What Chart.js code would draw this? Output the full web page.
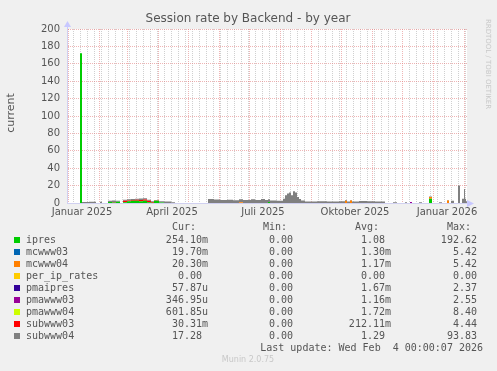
<!DOCTYPE html>
<html lang="de">
<head>
<meta charset="UTF-8">
<title>Session rate by Backend - by year</title>
<script src="https://cdn.jsdelivr.net/npm/chart.js"></script>
<style>
  html, body { margin: 0; padding: 0; background: #f0f0f0; }
  canvas { display: block; }
</style>
</head>
<body>
<canvas id="myChart" width="497" height="371"></canvas>
<script>
// day 0 = 31 Dec 2024, day 400 = 4 Feb 2026 (munin "by year" window)
// each value holds from its day until the next day in the list
const days = [0, 13, 15, 22, 29, 33, 35, 41, 45, 49,
  53, 56, 60, 64, 68, 72, 76, 80, 84, 87,
  92, 97, 104, 108, 141, 147, 153, 160, 166, 172,
  176, 184, 188, 194, 198, 201, 203, 210, 216, 218,
  220, 222, 224, 226, 228, 230, 232, 234, 238, 250,
  260, 272, 278, 280, 283, 285, 292, 300, 308, 318,
  326, 330, 338, 340, 343, 345, 352, 355, 362, 365,
  372, 375, 380, 382, 384, 387, 391, 393, 395, 397,
  398, 399, 400];

const ipres = [0, 172, 0, 0, 0, 0, 0, 1.2, 0.5, 1.5,
  0, 1, 2, 2.5, 2.5, 2, 2.5, 1, 0.3, 2.5,
  0.5, 0, 0, 0, 0, 0, 0, 0, 0, 0,
  0, 0, 0, 0, 0, 1.2, 0, 0, 0, 0,
  0, 0, 0, 0, 0, 0, 0, 0, 0, 0,
  0, 0, 0, 0, 0, 0, 0, 0, 0, 0,
  0, 0, 0, 0, 0, 0, 0, 0, 5, 0,
  0, 0, 0, 0, 0, 0, 0, 0, 0, 0,
  0, 0, 0];

const subwww03 = [0, 0, 0, 0, 0, 0, 0, 0, 0.6, 0,
  0, 1.5, 1, 1, 1.2, 1.5, 1.5, 1.5, 0.8, 0.5,
  0, 0, 0, 0, 0, 0, 0, 0, 0, 0,
  0, 0, 0, 0, 0, 0, 0, 0, 0, 0,
  0, 0, 0, 0, 0, 0, 0, 0, 0, 0,
  0, 0, 0, 0, 0, 0, 0, 0, 0, 0,
  0, 0, 0, 0, 0, 0, 0, 0, 0, 0,
  0, 0, 0, 0, 0, 0, 0, 0, 0, 0,
  0, 0, 0];

const subwww04 = [0, 0, 1.2, 1.5, 0, 1.5, 0, 1.5, 1.8, 1,
  0, 1.2, 1.3, 1, 1.2, 1.8, 1.5, 1.2, 1, 0.5,
  1.5, 1.8, 1, 0, 4.5, 4, 3.5, 3.8, 3.2, 3.5,
  3.5, 4.2, 3.5, 4.5, 3.5, 3, 3, 2.5, 5, 9,
  11, 12, 9, 13.5, 12, 7, 4.5, 3, 1.8, 2,
  1.8, 2, 1, 1.8, 0.5, 1.8, 2.2, 2, 1.8, 0,
  1, 0, 1, 0, 0, 0, 1, 0, 0.5, 0,
  0.8, 0, 0.5, 0, 2.5, 0, 20, 0, 5, 16,
  5, 2, 2];

// sparse series: only the days where something shows
const mcwww04Days = [172, 278, 283, 362, 380];
const mcwww04Vals = [0.8, 2.5, 3, 2, 3];
const pmawww03Days = [343];
const pmawww03Vals = [1.2];

const names = ['ipres', 'mcwww03', 'mcwww04', 'per_ip_rates', 'pmaipres',
  'pmawww03', 'pmawww04', 'subwww03', 'subwww04'];
const colors = ['#00cc00', '#0066b3', '#ff8000', '#ffcc00', '#330099',
  '#990099', '#ccff00', '#ff0000', '#808080'];

const curVals = ['254.10m', '19.70m', '20.30m', '0.00', '57.87u', '346.95u', '601.85u', '30.31m', '17.28'];
const minVals = ['0.00', '0.00', '0.00', '0.00', '0.00', '0.00', '0.00', '0.00', '0.00'];
const avgVals = ['1.08', '1.30m', '1.17m', '0.00', '1.67m', '1.16m', '1.72m', '212.11m', '1.29'];
const maxVals = ['192.62', '5.42', '5.42', '0.00', '2.37', '2.55', '8.40', '4.44', '93.83'];

const monthStarts = [1, 32, 60, 91, 121, 152, 182, 213, 244, 274, 305, 335, 366, 397];
const xLabelDays = [15, 105, 196, 288, 380];
const xLabels = ['Januar 2025', 'April 2025', 'Juli 2025', 'Oktober 2025', 'Januar 2026'];
const yTicks = [0, 20, 40, 60, 80, 100, 120, 140, 160, 180, 200];

function sparse(d, v) {
  return days.map(x => {
    const i = d.indexOf(x);
    return i < 0 ? 0 : v[i];
  });
}
const zeros = days.map(() => 0);
const seriesValues = {
  ipres: ipres,
  mcwww03: zeros,
  mcwww04: sparse(mcwww04Days, mcwww04Vals),
  per_ip_rates: zeros,
  pmaipres: zeros,
  pmawww03: sparse(pmawww03Days, pmawww03Vals),
  pmawww04: zeros,
  subwww03: subwww03,
  subwww04: subwww04
};

const RED = 'rgba(225,120,120,0.55)';
const GRAY = 'rgba(150,150,150,0.45)';

const muninText = {
  id: 'muninText',
  beforeDraw(chart) {
    const { ctx, chartArea: a } = chart;
    ctx.save();
    ctx.fillStyle = '#f0f0f0';
    ctx.fillRect(0, 0, chart.width, chart.height);
    ctx.fillStyle = '#ffffff';
    ctx.fillRect(a.left, a.top, a.right - a.left, a.bottom - a.top);
    ctx.restore();
  },
  afterDraw(chart) {
    const { ctx, chartArea: a } = chart;
    ctx.save();
    // title
    ctx.fillStyle = '#555';
    ctx.font = '12px "DejaVu Sans"';
    ctx.textAlign = 'center';
    ctx.textBaseline = 'middle';
    ctx.fillText('Session rate by Backend - by year', 248, 19);

    // vertical label
    ctx.save();
    ctx.translate(11, 113);
    ctx.rotate(-Math.PI / 2);
    ctx.font = '11px "DejaVu Sans"';
    ctx.fillText('current', 0, 0);
    ctx.restore();

    // rrdtool watermark
    ctx.save();
    ctx.translate(488, 64);
    ctx.rotate(Math.PI / 2);
    ctx.fillStyle = '#c8c8c8';
    ctx.font = '7px "DejaVu Sans"';
    ctx.fillText('RRDTOOL / TOBI OETIKER', 0, 0);
    ctx.restore();

    // axis arrows
    ctx.fillStyle = '#c8c8ff';
    ctx.strokeStyle = '#c8c8ff';
    ctx.beginPath();
    ctx.moveTo(a.left + 0.5, a.top);
    ctx.lineTo(a.left + 0.5, a.top - 4);
    ctx.stroke();
    ctx.beginPath();
    ctx.moveTo(a.left - 3, a.top - 2);
    ctx.lineTo(a.left + 4, a.top - 2);
    ctx.lineTo(a.left + 0.5, a.top - 8);
    ctx.fill();
    ctx.beginPath();
    ctx.moveTo(a.right, a.bottom - 3);
    ctx.lineTo(a.right, a.bottom + 4);
    ctx.lineTo(a.right + 7, a.bottom + 0.5);
    ctx.fill();

    // legend table
    ctx.font = '10px "DejaVu Sans Mono"';
    ctx.textBaseline = 'middle';
    ctx.fillStyle = '#555';
    const colRight = [208, 299, 391, 483];
    ['Cur:', 'Min:', 'Avg:', 'Max:'].forEach((h, k) => {
      ctx.textAlign = 'left';
      ctx.fillText(h, colRight[k] - 36, 227);
    });
    const pad = s => /\d$/.test(s) ? s + ' ' : s;
    const cols = [curVals, minVals, avgVals, maxVals];
    names.forEach((n, i) => {
      const y = 240 + i * 12;
      ctx.fillStyle = colors[i];
      ctx.fillRect(14, y - 3, 6, 6);
      ctx.fillStyle = '#555';
      ctx.textAlign = 'left';
      ctx.fillText(n, 26, y);
      ctx.textAlign = 'right';
      cols.forEach((c, k) => ctx.fillText(pad(c[i]), colRight[k], y));
    });
    ctx.textAlign = 'right';
    ctx.fillText('Last update: Wed Feb  4 00:00:07 2026', 483, 348);

    ctx.fillStyle = '#c8c8c8';
    ctx.font = '8px "DejaVu Sans"';
    ctx.textAlign = 'center';
    ctx.fillText('Munin 2.0.75', 248, 360);
    ctx.restore();
  }
};

const datasets = names.map((n, i) => ({
  label: n,
  data: days.map((d, j) => ({ x: d, y: seriesValues[n][j] })),
  backgroundColor: colors[i],
  borderColor: 'rgba(0,0,0,0)',
  borderWidth: 0,
  pointRadius: 0,
  stepped: true,
  fill: i === 0 ? 'origin' : '-1'
}));

new Chart(document.getElementById('myChart'), {
  type: 'line',
  data: { datasets: datasets },
  options: {
    responsive: false,
    animation: false,
    layout: { padding: { left: 0, top: 29, right: 30, bottom: 0 } },
    plugins: { legend: { display: false }, tooltip: { enabled: false } },
    scales: {
      x: {
        type: 'linear',
        min: 0,
        max: 400,
        afterFit: s => { s.height = 168; },
        afterBuildTicks: s => {
          const vals = new Set(monthStarts);
          for (let d = 6; d < 400; d += 7) vals.add(d);
          xLabelDays.forEach(d => vals.add(d));
          s.ticks = [...vals].sort((p, q) => p - q).map(v => ({ value: v }));
        },
        grid: {
          drawTicks: false,
          lineWidth: 1,
          color: c => {
            const v = c.tick ? c.tick.value : -1;
            if (xLabelDays.includes(v)) return 'rgba(0,0,0,0)';
            return monthStarts.includes(v) ? RED : GRAY;
          }
        },
        border: { display: true, color: '#d0d0f0', dash: [1, 1] },
        ticks: {
          autoSkip: false,
          maxRotation: 0,
          padding: 3,
          color: '#555',
          font: { family: 'DejaVu Sans', size: 10 },
          callback: v => {
            const i = xLabelDays.indexOf(v);
            return i < 0 ? '' : xLabels[i];
          }
        }
      },
      y: {
        stacked: true,
        min: 0,
        max: 200,
        afterFit: s => { s.width = 67; },
        grid: {
          drawTicks: false,
          color: c => (c.tick && yTicks.includes(c.tick.value)) ? RED : GRAY
        },
        border: { display: true, color: '#d0d0f0', dash: [1, 1] },
        ticks: {
          stepSize: 10,
          padding: 7,
          color: '#555',
          font: { family: 'DejaVu Sans', size: 10 },
          callback: v => yTicks.includes(v) ? v : ''
        }
      }
    }
  },
  plugins: [muninText]
});
</script>
</body>
</html>
